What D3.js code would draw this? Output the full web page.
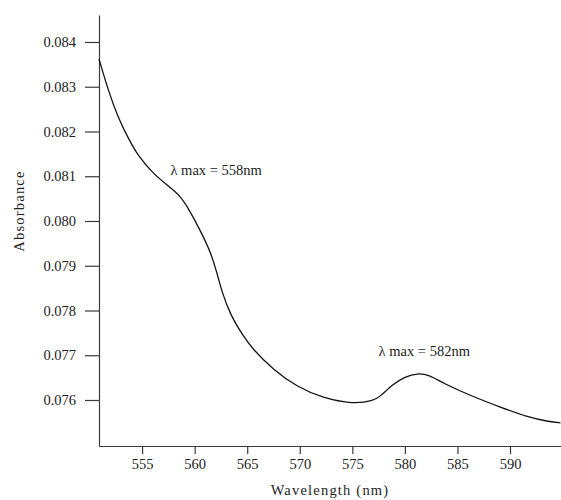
<!DOCTYPE html>
<html>
<head>
<meta charset="utf-8">
<script src="https://cdn.jsdelivr.net/npm/d3@7"></script>
<style>
  body { margin: 0; background: #fff; }
  svg text { font-family: "Liberation Serif", "Times New Roman", Times, "DejaVu Serif", "Noto Serif", serif !important; fill: #222; }
</style>
</head>
<body>
<svg id="mainsvg" width="561" height="500"></svg>
<script>
// wavelength (nm) and absorbance
const wavelength = [550.9, 551.8, 552.7, 553.7, 554.6, 556.0, 557.5, 558.5, 559.5, 560.5,
  561.5, 562.1, 562.6, 563.4, 564.6, 565.5, 567.5, 569.7, 572.2, 575.1,
  577.0, 577.6, 578.9, 580.0, 581.2, 582.3, 583.6, 586.5, 589.1, 591.6, 593.8, 594.8];
const absorbance = [0.08362, 0.08290, 0.08232, 0.08184, 0.08146, 0.08107, 0.08078, 0.08060, 0.08025, 0.07980,
  0.07932, 0.07886, 0.07841, 0.07790, 0.07744, 0.07714, 0.07667, 0.07630, 0.07604, 0.07591,
  0.07598, 0.07607, 0.07636, 0.07652, 0.07660, 0.07656, 0.07638, 0.07607, 0.07584, 0.07562, 0.07551, 0.07549];

const xTicks = [555, 560, 565, 570, 575, 580, 585, 590];
const yTicks = [0.076, 0.077, 0.078, 0.079, 0.080, 0.081, 0.082, 0.083, 0.084];

// peak labels: text, anchor wavelength, anchor absorbance
const peakLabels = ['λ max = 558nm', 'λ max = 582nm'];
const peakX = [557.7, 577.5];
const peakY = [0.08103, 0.07698];

const svg = d3.select('#mainsvg'),
  width = +svg.attr('width'),
  height = +svg.attr('height'),
  margin = { top: 15, right: 0, bottom: 54, left: 99 },
  innerWidth = width - margin.left - margin.right,
  innerHeight = height - margin.top - margin.bottom;

const g = svg.append('g')
  .attr('transform', `translate(${margin.left},${margin.top})`);

const xScale = d3.scaleLinear().domain([550.9, 594.85]).range([0, innerWidth]);
const yScale = d3.scaleLinear().domain([0.074972, 0.084603]).range([innerHeight, 0]);

const xAxis = d3.axisBottom(xScale).tickValues(xTicks).tickSize(8).tickSizeOuter(0).tickPadding(5);
const yAxis = d3.axisLeft(yScale).tickValues(yTicks).tickSize(14).tickSizeOuter(0).tickPadding(9)
  .tickFormat(d3.format('.3f'));

const gx = g.append('g').attr('transform', `translate(0,${innerHeight})`).call(xAxis);
const gy = g.append('g').call(yAxis);

[gx, gy].forEach(a => {
  a.attr('font-family', null).attr('font-size', null);
  a.selectAll('path, line').attr('stroke', '#3a3a3a').attr('stroke-width', 1.2);
  a.selectAll('text').attr('font-size', '14.5px').attr('fill', '#222');
});

const points = wavelength.map((w, i) => [w, absorbance[i]]);

const line = d3.line()
  .x(d => xScale(d[0]))
  .y(d => yScale(d[1]))
  .curve(d3.curveBasis);

g.append('path')
  .datum(points)
  .attr('fill', 'none')
  .attr('stroke', '#111')
  .attr('stroke-width', 1.3)
  .attr('d', line);

peakLabels.forEach((t, i) => {
  g.append('text')
    .attr('x', xScale(peakX[i]))
    .attr('y', yScale(peakY[i]))
    .attr('font-size', '14.5px')
    .text(t);
});

// axis titles
svg.append('text')
  .attr('x', margin.left + innerWidth / 2)
  .attr('y', 495)
  .attr('text-anchor', 'middle')
  .attr('font-size', '14.5px')
  .attr('letter-spacing', '1.2px')
  .text('Wavelength (nm)');

svg.append('text')
  .attr('transform', 'translate(24,211) rotate(-90)')
  .attr('text-anchor', 'middle')
  .attr('font-size', '14.5px')
  .attr('letter-spacing', '1.2px')
  .text('Absorbance');
</script>
</body>
</html>
